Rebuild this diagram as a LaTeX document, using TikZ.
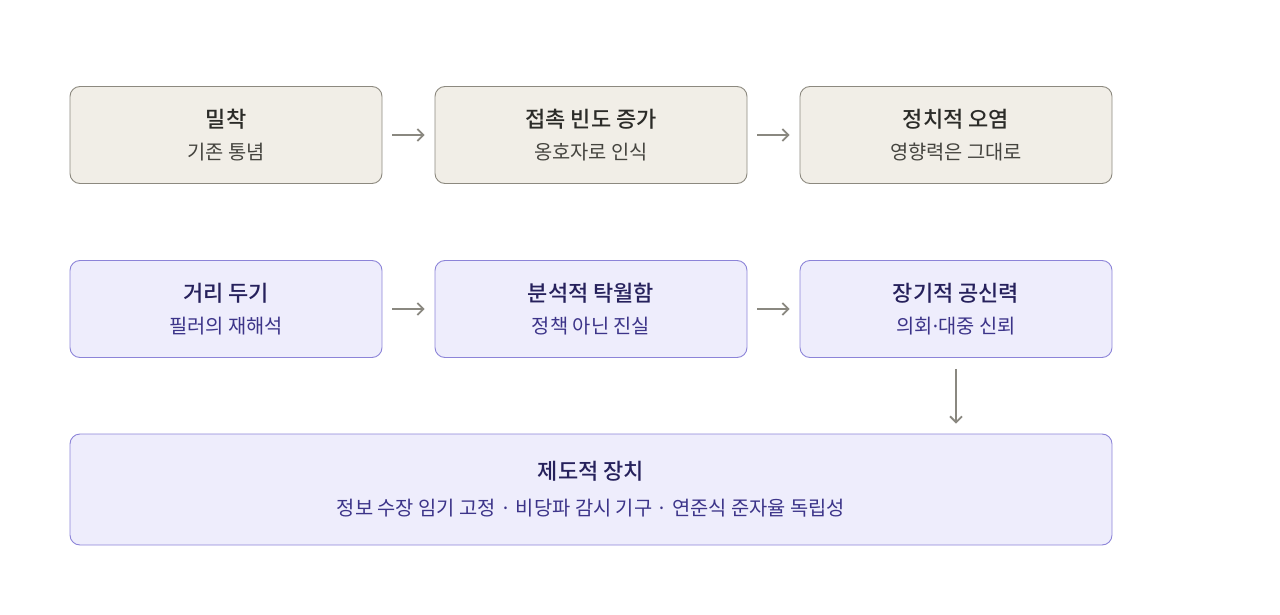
\documentclass[tikz,border=0pt]{standalone}
\usepackage{fontspec}
\newfontfamily\kr{Noto Sans CJK KR}[BoldFont={Noto Sans CJK KR Medium}]
\newfontfamily\latindot{Noto Sans}
\usetikzlibrary{arrows.meta}

\definecolor{sandfill}{HTML}{F1EEE7}
\definecolor{sandline}{HTML}{8C897F}
\definecolor{sandtext}{HTML}{2B2B28}
\definecolor{sandsub}{HTML}{45443F}
\definecolor{lilacfill}{HTML}{EEEDFC}
\definecolor{lilacline}{HTML}{8C84D8}
\definecolor{lilactext}{HTML}{26215C}
\definecolor{lilacsub}{HTML}{3C3489}
\definecolor{arrowgray}{HTML}{8A8880}

\tikzset{
	card/.style={rectangle, rounded corners=10pt, line width=0.9pt, minimum width=312pt, minimum height=97pt, align=center, font=\kr\fontsize{22}{32}\selectfont},
	sandcard/.style={card, draw=sandline, fill=sandfill, text=sandtext},
	lilaccard/.style={card, draw=lilacline, fill=lilacfill, text=lilactext},
	flow/.style={draw=arrowgray, line width=1.8pt, -{Straight Barb[length=6pt, width=12pt, line width=1.8pt]}}
}

\begin{document}
\begin{tikzpicture}[x=1pt, y=-1pt]
		\useasboundingbox (0, 0) rectangle (1280, 615);
		
		% first row
		\node[sandcard] (glue) at (226, 135)
			{\bfseries 밀착\\
			{\fontsize{19.8}{32}\selectfont\color{sandsub}기존 통념}};
		\node[sandcard] (contact) at (591, 135)
			{\bfseries 접촉 빈도 증가\\
			{\fontsize{19.8}{32}\selectfont\color{sandsub}옹호자로 인식}};
		\node[sandcard] (taint) at (956, 135)
			{\bfseries 정치적 오염\\
			{\fontsize{19.8}{32}\selectfont\color{sandsub}영향력은 그대로}};
		
		% second row
		\node[lilaccard] (distance) at (226, 309)
			{\bfseries 거리 두기\\
			{\fontsize{19.8}{32}\selectfont\color{lilacsub}필러의 재해석}};
		\node[lilaccard] (analysis) at (591, 309)
			{\bfseries 분석적 탁월함\\
			{\fontsize{19.8}{32}\selectfont\color{lilacsub}정책 아닌 진실}};
		\node[lilaccard] (trust) at (956, 309)
			{\bfseries 장기적 공신력\\
			{\fontsize{19.8}{32}\selectfont\color{lilacsub}의회{\latindot ·}대중 신뢰}};
		
		% institutional base
		\node[lilaccard, minimum width=1042pt, minimum height=111pt] (base) at (591, 489.5)
			{\bfseries 제도적 장치\\[4pt]
			{\fontsize{19.8}{32}\selectfont\color{lilacsub}정보 수장 임기 고정 · 비당파 감시 기구 · 연준식 준자율 독립성}};
		
		\draw[flow] ([xshift=10pt]glue.east) -- ([xshift=-10pt]contact.west);
		\draw[flow] ([xshift=10pt]contact.east) -- ([xshift=-10pt]taint.west);
		\draw[flow] ([xshift=10pt]distance.east) -- ([xshift=-10pt]analysis.west);
		\draw[flow] ([xshift=10pt]analysis.east) -- ([xshift=-10pt]trust.west);
		\draw[flow] ([yshift=-11pt]trust.south) -- ([yshift=10pt]base.north -| trust.south);
\end{tikzpicture}
\end{document}
